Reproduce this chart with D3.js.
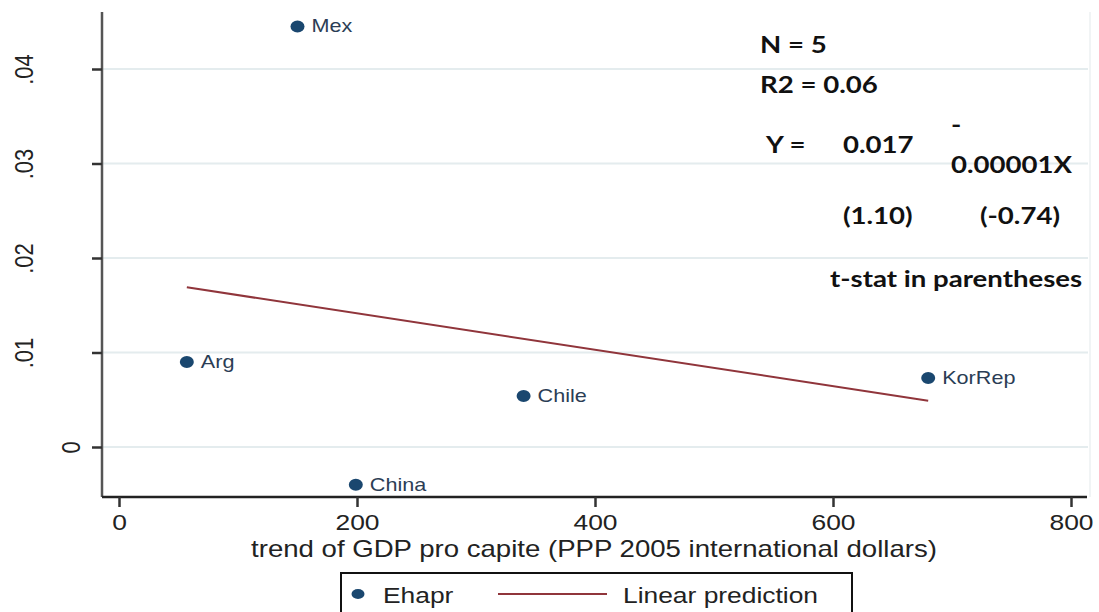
<!DOCTYPE html>
<html>
<head>
<meta charset="utf-8">
<script src="https://cdn.jsdelivr.net/npm/d3@7"></script>
<style>
    body { margin: 0; background: #fff; }
    svg { display: block; }
</style>
</head>
<body>
<div id="chart"></div>
<script>
// data
const countries = ["Mex", "Arg", "Chile", "China", "KorRep"];
const gdpTrend = [150, 57, 340, 199, 680];
const ehapr = [0.0445, 0.0090, 0.0054, -0.0040, 0.0073];
const fitX = [57, 680];
const fitY = [0.0169, 0.0049];
const xTicks = [0, 200, 400, 600, 800];
const yTicks = [0, 0.01, 0.02, 0.03, 0.04];
const yTickLabels = ["0", ".01", ".02", ".03", ".04"];

const width = 1099, height = 612;
const navy = "#1a476f", maroon = "#90353b";
const SX = 1.2; // the picture is stretched sideways a bit
const sans = "'Liberation Sans', Arial, sans-serif";

const svg = d3.select("#chart").append("svg")
    .attr("width", width)
    .attr("height", height);

const x = d3.scaleLinear().domain([0, 800]).range([119, 1071]);
const y = d3.scaleLinear().domain([0, 0.04]).range([447, 69]);
const plot = { left: 102, right: 1090, top: 12, bottom: 497 };

// grid
svg.append("g")
    .selectAll("line")
    .data(yTicks)
    .enter().append("line")
    .attr("x1", plot.left).attr("x2", plot.right - 2)
    .attr("y1", d => y(d)).attr("y2", d => y(d))
    .attr("stroke", "#e4ecee")
    .attr("stroke-width", 2);

// faint right border
svg.append("line")
    .attr("x1", plot.right).attr("x2", plot.right)
    .attr("y1", plot.top).attr("y2", plot.bottom)
    .attr("stroke", "#edf1f2").attr("stroke-width", 1.5);

// y axis
const yAxis = svg.append("g")
    .attr("transform", `translate(${plot.left},0)`)
    .call(d3.axisLeft(y).tickValues(yTicks).tickSize(10).tickFormat((d, i) => yTickLabels[i]));
yAxis.select(".domain").attr("d", `M0,${plot.top}V${plot.bottom}`).attr("stroke", "#555").attr("stroke-width", 2.5);
yAxis.selectAll(".tick line").attr("stroke", "#333").attr("stroke-width", 2.5);
yAxis.selectAll(".tick text")
    .attr("x", 0).attr("y", 0).attr("dy", 0)
    .attr("transform", d => `translate(${d === 0 ? -22 : -69},0) scale(${SX},1) rotate(-90)`)
    .attr("text-anchor", "middle")
    .style("font-family", sans)
    .style("font-size", "22px")
    .attr("fill", "#222");

// x axis
const xAxis = svg.append("g")
    .attr("transform", `translate(0,${plot.bottom})`)
    .call(d3.axisBottom(x).tickValues(xTicks).tickSize(10).tickFormat(d3.format("d")));
xAxis.select(".domain").attr("d", `M${plot.left},0H${plot.right - 3}`).attr("stroke", "#222").attr("stroke-width", 2.5);
xAxis.selectAll(".tick line").attr("stroke", "#333").attr("stroke-width", 2.5);
xAxis.selectAll(".tick text")
    .attr("y", 0).attr("dy", 0)
    .attr("transform", `translate(0,33) scale(${SX},1)`)
    .style("font-family", sans)
    .style("font-size", "22px")
    .attr("fill", "#222");

svg.append("text")
    .attr("transform", `translate(594,557) scale(${SX},1)`)
    .attr("text-anchor", "middle")
    .style("font-family", sans)
    .style("font-size", "23px")
    .attr("fill", "#222")
    .text("trend of GDP pro capite (PPP 2005 international dollars)");

// fitted line
const fit = fitX.map((v, i) => [v, fitY[i]]);
svg.append("path")
    .datum(fit)
    .attr("d", d3.line().x(d => x(d[0])).y(d => y(d[1])))
    .attr("fill", "none")
    .attr("stroke", maroon)
    .attr("stroke-width", 2);

// points
const pts = countries.map((c, i) => ({ name: c, gx: gdpTrend[i], val: ehapr[i] }));
const pg = svg.append("g").selectAll("g")
    .data(pts)
    .enter().append("g")
    .attr("transform", d => `translate(${x(d.gx)},${y(d.val)})`);
pg.append("ellipse").attr("rx", 7).attr("ry", 6).attr("fill", navy);
pg.append("text")
    .attr("transform", `translate(14,6) scale(${SX},1)`)
    .style("font-family", sans)
    .style("font-size", "18px")
    .attr("fill", "#2b3d55")
    .text(d => d.name);

// annotation
const note = svg.append("g")
    .style("font-family", "Lato, 'Open Sans', sans-serif")
    .style("font-weight", "bold")
    .style("font-size", "23px")
    .attr("fill", "#111");
const notes = [
    ["N = 5", 760, 53],
    ["R2 = 0.06", 760, 93],
    ["Y =", 766, 153],
    ["0.017", 843, 153],
    ["-", 951, 133],
    ["0.00001X", 951, 173],
    ["(1.10)", 843, 224],
    ["(-0.74)", 980, 224],
    ["t-stat in parentheses", 830, 287]
];
note.selectAll("text")
    .data(notes)
    .enter().append("text")
    .attr("transform", d => `translate(${d[1]},${d[2]}) scale(${SX},1)`)
    .text(d => d[0]);

// legend
const lg = svg.append("g");
lg.append("rect")
    .attr("x", 341).attr("y", 573).attr("width", 511).attr("height", 50)
    .attr("fill", "#fff").attr("stroke", "#111").attr("stroke-width", 2);
lg.append("ellipse").attr("cx", 358).attr("cy", 594).attr("rx", 6.5).attr("ry", 5).attr("fill", navy);
lg.append("line")
    .attr("x1", 498).attr("x2", 607).attr("y1", 594).attr("y2", 594)
    .attr("stroke", maroon).attr("stroke-width", 2);
lg.selectAll("text")
    .data([["Ehapr", 383], ["Linear prediction", 623]])
    .enter().append("text")
    .attr("transform", d => `translate(${d[1]},603) scale(${SX},1)`)
    .style("font-family", sans)
    .style("font-size", "22px")
    .attr("fill", "#222")
    .text(d => d[0]);
</script>
</body>
</html>
